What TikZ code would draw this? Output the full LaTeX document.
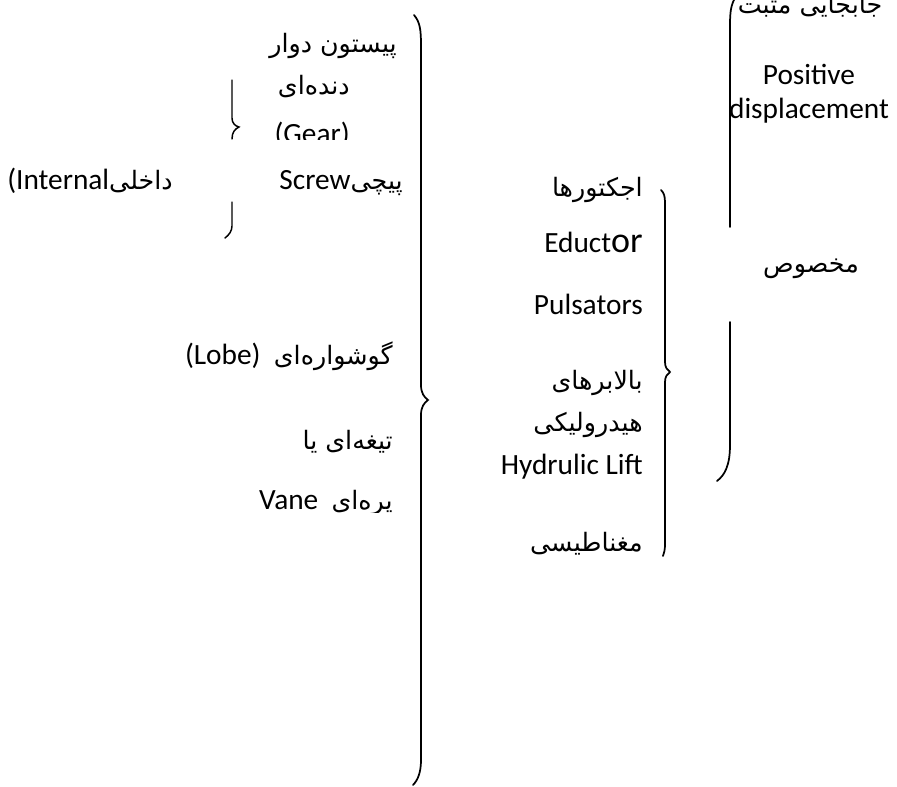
\documentclass[tikz,border=0pt]{standalone}
\usepackage{fontspec}
\setmainfont{Carlito}
\newfontfamily\fa[Script=Arabic]{DejaVu Sans}
\TeXXeTstate=1
\newcommand{\fatxt}[1]{{\fa\fontsize{19}{22}\selectfont\beginR #1\endR}}

\tikzset{
  lbl/.style={inner sep=0pt, font=\fontsize{22}{26}\selectfont},
  brc/.style={line width=1.3pt, line cap=round}
}

\begin{document}
\begin{tikzpicture}[x=0.75pt, y=-0.75pt]
\useasboundingbox (0,0) rectangle (897,787);

% left column
\node[lbl, anchor=base east] (piston) at (397,53) {\fatxt{پیستون دوار}};
\node[lbl, anchor=base east] (dande) at (350,95) {\fatxt{دنده‌ای}};
\begin{scope}
\clip (240,100) rectangle (380,140);
\node[lbl, anchor=base east] (gear) at (350,144) {(Gear)};
\end{scope}
\node[lbl, anchor=base east] (screw) at (403,190) {Screw\fatxt{پیچی}};
\node[lbl, anchor=base west] (internal) at (7,190) {(Internal\fatxt{داخلی}};
\node[lbl, anchor=base east] (lobe) at (393,365) {(Lobe)\ \ \fatxt{گوشواره‌ای}};
\node[lbl, anchor=base east] (tigheh) at (393,450) {\fatxt{تیغه‌ای یا}};
\begin{scope}
\clip (240,480) rectangle (400,513);
\node[lbl, anchor=base east] (vane) at (393,510) {Vane\ \ \fatxt{پره‌ای}};
\end{scope}

% small brace
\draw[brc, line width=1.1pt] (232,80) -- (232,118) .. controls (232,123) and (235,126) .. (239,127)
  .. controls (235,129) and (232,132) .. (232,139);
\draw[brc, line width=1.1pt] (232,202) -- (232,226) .. controls (232,231) and (229,235) .. (225,238);

% big brace
\draw[brc] (414,15) .. controls (420,22) and (421,30) .. (421,45) -- (421,385)
  .. controls (421,393) and (424,397) .. (428,400)
  .. controls (424,403) and (421,407) .. (421,415) -- (421,760)
  .. controls (421,772) and (418,780) .. (413,785);

% middle column
\node[lbl, anchor=base east] (ejector) at (643,197) {\fatxt{اجکتورها}};
\node[lbl, anchor=base east] (eductor) at (643,253) {Educt{\fontsize{27}{30}\selectfont or}};
\node[lbl, anchor=base east] (pulsator) at (643,315) {Pulsators};
\node[lbl, anchor=base east] (balabar) at (643,390) {\fatxt{بالابرهای}};
\node[lbl, anchor=base east] (hydro) at (643,432) {\fatxt{هیدرولیکی}};
\node[lbl, anchor=base east] (lift) at (643,475) {Hydrulic Lift};
\node[lbl, anchor=base east] (magnet) at (643,552) {\fatxt{مغناطیسی}};

% middle brace
\draw[brc] (661,190) .. controls (664,193) and (665,196) .. (665,203) -- (665,362)
  .. controls (665,367) and (667,370) .. (670,372)
  .. controls (667,374) and (665,377) .. (665,382) -- (665,545)
  .. controls (665,550) and (664,553) .. (663,556);

% right column
\node[lbl, anchor=base] (positive) at (810,14) {\fatxt{جابجایی مثبت}};
\node[lbl, anchor=base] (pos) at (809,85) {Positive};
\node[lbl, anchor=base] (displ) at (809,119) {displacement};
\node[lbl, anchor=base] (special) at (811,273) {\fatxt{مخصوص}};

% right brace
\draw[brc] (735,-2) .. controls (731,5) and (730,12) .. (730,25) -- (730,227);
\draw[brc] (730,322) -- (730,445) .. controls (730,465) and (725,475) .. (717,481);

\end{tikzpicture}
\end{document}
